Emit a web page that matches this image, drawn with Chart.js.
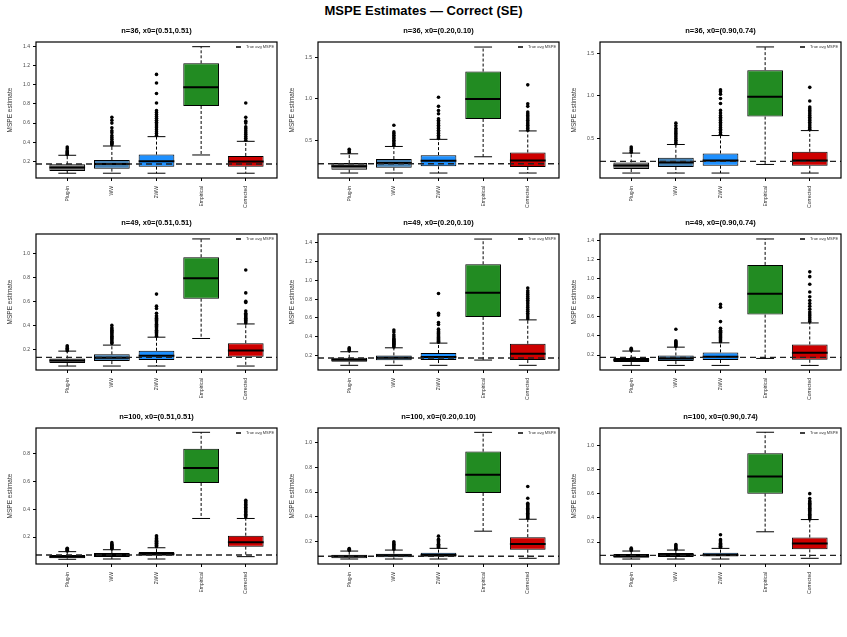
<!DOCTYPE html>
<html lang="en">
<head>
    <meta charset="UTF-8">
    <title>MSPE Estimates — Correct (SE)</title>
    <script src="https://cdn.jsdelivr.net/npm/chart.js"></script>
    <style>
        body {
            margin: 0;
            background-color: #ffffff;
            font-family: "Liberation Sans", Arial, sans-serif;
        }
        .page {
            position: relative;
            width: 847px;
            height: 637px;
        }
        .main-title {
            position: absolute;
            left: 0;
            top: 3px;
            width: 847px;
            text-align: center;
            font-weight: bold;
            font-size: 13px;
            color: #000;
        }
        .panel {
            position: absolute;
        }
    </style>
</head>
<body>
    <div class="page" id="page">
        <div class="main-title">MSPE Estimates — Correct (SE)</div>
    </div>

    <script>
        // Data
        const methods = ['Plug-in', 'WW', '2WW', 'Empirical', 'Corrected'];
        const boxColors = ['#7f7f7f', '#4682b4', '#1e90ff', '#228b22', '#cd0000'];
        const legendLabel = 'True avg MSPE';

        const panelTitles = [
            'n=36, x0=(0.51,0.51)', 'n=36, x0=(0.20,0.10)', 'n=36, x0=(0.90,0.74)',
            'n=49, x0=(0.51,0.51)', 'n=49, x0=(0.20,0.10)', 'n=49, x0=(0.90,0.74)',
            'n=100, x0=(0.51,0.51)', 'n=100, x0=(0.20,0.10)', 'n=100, x0=(0.90,0.74)'
        ];
        const trueAvgMSPE = [0.172, 0.215, 0.232, 0.134, 0.172, 0.176, 0.071, 0.083, 0.090];

        const yMin = [0.025, 0.042, 0.037, 0.029, 0.044, 0.044, 0.006, 0.021, 0.019];
        const yMax = [1.449, 1.689, 1.632, 1.160, 1.496, 1.466, 0.986, 1.115, 1.142];
        const yStep = [0.2, 0.5, 0.5, 0.2, 0.2, 0.2, 0.2, 0.2, 0.2];

        const q1 = [
            [0.099, 0.123, 0.144, 0.779, 0.144],
            [0.142, 0.167, 0.183, 0.757, 0.175],
            [0.142, 0.165, 0.181, 0.757, 0.181],
            [0.087, 0.103, 0.112, 0.622, 0.139],
            [0.133, 0.147, 0.150, 0.611, 0.150],
            [0.127, 0.137, 0.148, 0.623, 0.151],
            [0.047, 0.057, 0.066, 0.590, 0.131],
            [0.067, 0.075, 0.080, 0.592, 0.136],
            [0.071, 0.077, 0.080, 0.600, 0.140]
        ];
        const medians = [
            [0.134, 0.172, 0.200, 0.974, 0.197],
            [0.183, 0.223, 0.251, 0.998, 0.255],
            [0.185, 0.220, 0.243, 0.990, 0.243],
            [0.109, 0.131, 0.148, 0.793, 0.192],
            [0.154, 0.175, 0.182, 0.869, 0.218],
            [0.148, 0.165, 0.183, 0.842, 0.224],
            [0.059, 0.071, 0.078, 0.697, 0.162],
            [0.083, 0.091, 0.093, 0.739, 0.181],
            [0.085, 0.093, 0.093, 0.742, 0.189]
        ];
        const q3 = [
            [0.169, 0.214, 0.270, 1.226, 0.256],
            [0.223, 0.271, 0.319, 1.331, 0.351],
            [0.220, 0.274, 0.325, 1.302, 0.344],
            [0.125, 0.159, 0.189, 0.967, 0.252],
            [0.175, 0.200, 0.225, 1.173, 0.324],
            [0.169, 0.196, 0.228, 1.143, 0.311],
            [0.071, 0.085, 0.092, 0.836, 0.210],
            [0.096, 0.104, 0.112, 0.925, 0.237],
            [0.101, 0.110, 0.112, 0.934, 0.238]
        ];
        const whiskerLow = [
            [0.075, 0.075, 0.075, 0.266, 0.075],
            [0.102, 0.102, 0.102, 0.299, 0.102],
            [0.095, 0.095, 0.095, 0.196, 0.095],
            [0.062, 0.062, 0.062, 0.291, 0.062],
            [0.094, 0.094, 0.094, 0.150, 0.094],
            [0.092, 0.092, 0.092, 0.165, 0.092],
            [0.040, 0.042, 0.042, 0.334, 0.059],
            [0.061, 0.061, 0.061, 0.285, 0.067],
            [0.060, 0.060, 0.060, 0.285, 0.066]
        ];
        const whiskerHigh = [
            [0.263, 0.360, 0.458, 1.400, 0.409],
            [0.335, 0.424, 0.510, 1.628, 0.612],
            [0.329, 0.430, 0.535, 1.574, 0.593],
            [0.186, 0.236, 0.302, 1.119, 0.412],
            [0.239, 0.281, 0.331, 1.442, 0.579],
            [0.242, 0.283, 0.328, 1.414, 0.536],
            [0.095, 0.109, 0.123, 0.955, 0.334],
            [0.125, 0.133, 0.147, 1.080, 0.381],
            [0.126, 0.134, 0.148, 1.107, 0.386]
        ];
        const outliers = [
            [
                [0.27, 0.28, 0.29, 0.30, 0.31, 0.33, 0.35],
                [0.37, 0.38, 0.39, 0.40, 0.41, 0.43, 0.45, 0.47, 0.50, 0.52, 0.55, 0.60, 0.63, 0.66],
                [0.47, 0.49, 0.51, 0.53, 0.55, 0.57, 0.59, 0.61, 0.63, 0.65, 0.67, 0.69, 0.71, 0.73, 0.81, 0.91, 1.02, 1.11],
                [],
                [0.42, 0.44, 0.46, 0.48, 0.50, 0.52, 0.54, 0.56, 0.60, 0.62, 0.66, 0.81]
            ],
            [
                [0.35, 0.37, 0.39],
                [0.44, 0.46, 0.48, 0.50, 0.52, 0.54, 0.56, 0.58, 0.60, 0.68],
                [0.52, 0.54, 0.56, 0.58, 0.60, 0.62, 0.64, 0.66, 0.68, 0.70, 0.72, 0.74, 0.76, 0.82, 0.86, 0.91, 1.02],
                [],
                [0.62, 0.64, 0.66, 0.68, 0.70, 0.72, 0.74, 0.76, 0.78, 0.80, 0.82, 0.84, 0.91, 0.94, 1.17]
            ],
            [
                [0.34, 0.36, 0.38, 0.40],
                [0.44, 0.46, 0.48, 0.50, 0.52, 0.54, 0.56, 0.58, 0.60, 0.62, 0.65, 0.68],
                [0.55, 0.57, 0.59, 0.61, 0.63, 0.65, 0.67, 0.69, 0.71, 0.73, 0.75, 0.77, 0.80, 0.83, 0.91, 0.97, 1.02, 1.05, 1.07],
                [],
                [0.61, 0.63, 0.65, 0.67, 0.69, 0.71, 0.73, 0.75, 0.77, 0.79, 0.81, 0.83, 0.85, 0.87, 0.94, 1.10]
            ],
            [
                [0.19, 0.20, 0.21, 0.22, 0.23],
                [0.25, 0.26, 0.27, 0.28, 0.29, 0.30, 0.31, 0.32, 0.33, 0.34, 0.35, 0.36, 0.37, 0.38, 0.40],
                [0.31, 0.32, 0.33, 0.34, 0.35, 0.36, 0.37, 0.38, 0.39, 0.40, 0.41, 0.42, 0.43, 0.44, 0.45, 0.46, 0.47, 0.48, 0.50, 0.54, 0.56, 0.66],
                [],
                [0.42, 0.43, 0.44, 0.45, 0.46, 0.47, 0.48, 0.49, 0.50, 0.52, 0.59, 0.60, 0.67, 0.86]
            ],
            [
                [0.25, 0.26, 0.27, 0.28],
                [0.29, 0.30, 0.31, 0.32, 0.33, 0.34, 0.35, 0.36, 0.37, 0.38, 0.40, 0.42, 0.45, 0.47],
                [0.34, 0.35, 0.36, 0.37, 0.38, 0.39, 0.40, 0.41, 0.42, 0.43, 0.44, 0.45, 0.46, 0.48, 0.53, 0.55, 0.63, 0.65, 0.86],
                [],
                [0.59, 0.61, 0.63, 0.65, 0.67, 0.69, 0.71, 0.73, 0.75, 0.77, 0.79, 0.81, 0.83, 0.85, 0.87, 0.89, 0.92]
            ],
            [
                [0.25, 0.26, 0.27],
                [0.29, 0.30, 0.31, 0.32, 0.33, 0.34, 0.35, 0.47],
                [0.34, 0.35, 0.36, 0.37, 0.38, 0.39, 0.40, 0.41, 0.42, 0.43, 0.44, 0.45, 0.46, 0.48, 0.55, 0.70, 0.73],
                [],
                [0.55, 0.57, 0.59, 0.61, 0.63, 0.65, 0.68, 0.71, 0.74, 0.77, 0.81, 0.86, 0.94, 1.02, 1.07]
            ],
            [
                [0.100, 0.105, 0.110, 0.115, 0.120],
                [0.115, 0.120, 0.125, 0.130, 0.135, 0.140, 0.145, 0.150, 0.160],
                [0.130, 0.135, 0.140, 0.145, 0.150, 0.155, 0.160, 0.165, 0.170, 0.175, 0.180, 0.190, 0.200, 0.210],
                [],
                [0.345, 0.355, 0.365, 0.375, 0.385, 0.395, 0.405, 0.415, 0.425, 0.435, 0.445, 0.455, 0.465]
            ],
            [
                [0.130, 0.135, 0.140, 0.145],
                [0.140, 0.150, 0.160, 0.170, 0.180, 0.190, 0.200],
                [0.155, 0.160, 0.165, 0.170, 0.175, 0.180, 0.190, 0.200, 0.210, 0.220, 0.245],
                [],
                [0.39, 0.40, 0.41, 0.42, 0.43, 0.44, 0.45, 0.46, 0.47, 0.48, 0.49, 0.50, 0.51, 0.55, 0.645]
            ],
            [
                [0.130, 0.140, 0.150],
                [0.140, 0.150, 0.160, 0.170, 0.180],
                [0.155, 0.160, 0.165, 0.170, 0.175, 0.180, 0.190, 0.200, 0.210, 0.220, 0.260],
                [],
                [0.39, 0.40, 0.41, 0.42, 0.43, 0.44, 0.45, 0.46, 0.47, 0.48, 0.49, 0.50, 0.51, 0.52, 0.53, 0.54, 0.56, 0.60]
            ]
        ];

        // Layout
        const panelLefts = [0, 282, 564];
        const panelTops = [22, 214, 408];
        const panelWidth = 282;
        const panelHeight = 192;
        const xMin = 0.3;
        const xMax = 5.7;
        const boxHalf = 0.4;
        const capHalf = 0.2;
        const fontFamily = '"Liberation Sans", Arial, sans-serif';

        Chart.defaults.font.family = fontFamily;

        // frame around the plot region + small legend in the top right corner
        const framePlugin = {
            id: 'frame',
            afterDraw(chart) {
                const { ctx, chartArea: a } = chart;
                ctx.save();
                ctx.strokeStyle = '#000';
                ctx.lineWidth = 1.2;
                ctx.strokeRect(a.left, a.top, a.right - a.left, a.bottom - a.top);
                ctx.lineWidth = 1.5;
                ctx.beginPath();
                ctx.moveTo(a.right - 41, a.top + 5);
                ctx.lineTo(a.right - 36, a.top + 5);
                ctx.stroke();
                ctx.font = '4px ' + fontFamily;
                ctx.fillStyle = '#333';
                ctx.textBaseline = 'middle';
                ctx.fillText(legendLabel, a.right - 31, a.top + 5);
                ctx.restore();
            }
        };

        function buildDatasets(p) {
            const boxData = [];
            const medianPts = [];
            const whiskerPts = [];
            const capPts = [];
            const outlierPts = [];

            methods.forEach((m, i) => {
                const x = i + 1;
                boxData.push({ x: x, y: [q1[p][i], q3[p][i]] });
                medianPts.push({ x: x - boxHalf, y: medians[p][i] }, { x: x + boxHalf, y: medians[p][i] }, { x: x, y: null });
                whiskerPts.push(
                    { x: x, y: q3[p][i] }, { x: x, y: whiskerHigh[p][i] }, { x: x, y: null },
                    { x: x, y: q1[p][i] }, { x: x, y: whiskerLow[p][i] }, { x: x, y: null }
                );
                capPts.push(
                    { x: x - capHalf, y: whiskerHigh[p][i] }, { x: x + capHalf, y: whiskerHigh[p][i] }, { x: x, y: null },
                    { x: x - capHalf, y: whiskerLow[p][i] }, { x: x + capHalf, y: whiskerLow[p][i] }, { x: x, y: null }
                );
                outliers[p][i].forEach(v => outlierPts.push({ x: x, y: v }));
            });

            return [
                {
                    type: 'line',
                    label: 'whiskers',
                    data: whiskerPts,
                    borderColor: '#000',
                    borderWidth: 1,
                    borderDash: [3, 2],
                    pointRadius: 0,
                    spanGaps: false,
                    order: 5
                },
                {
                    type: 'line',
                    label: 'caps',
                    data: capPts,
                    borderColor: '#000',
                    borderWidth: 1,
                    pointRadius: 0,
                    spanGaps: false,
                    order: 4
                },
                {
                    type: 'bar',
                    label: 'box',
                    data: boxData,
                    backgroundColor: boxColors,
                    borderColor: '#000',
                    borderWidth: 1,
                    borderSkipped: false,
                    barPercentage: 0.8,
                    categoryPercentage: 1.0,
                    order: 3
                },
                {
                    type: 'line',
                    label: 'median',
                    data: medianPts,
                    borderColor: '#000',
                    borderWidth: 2,
                    pointRadius: 0,
                    spanGaps: false,
                    order: 2
                },
                {
                    type: 'line',
                    label: legendLabel,
                    data: [{ x: xMin, y: trueAvgMSPE[p] }, { x: xMax, y: trueAvgMSPE[p] }],
                    borderColor: '#222',
                    borderWidth: 1.4,
                    borderDash: [6, 4],
                    pointRadius: 0,
                    order: 1
                },
                {
                    type: 'line',
                    label: 'outliers',
                    data: outlierPts,
                    showLine: false,
                    pointRadius: 1.8,
                    pointBackgroundColor: '#000',
                    pointBorderWidth: 0,
                    order: 0
                }
            ];
        }

        function makeChart(p) {
            const canvas = document.createElement('canvas');
            canvas.className = 'panel';
            canvas.width = panelWidth;
            canvas.height = panelHeight;
            canvas.style.left = panelLefts[p % 3] + 'px';
            canvas.style.top = panelTops[Math.floor(p / 3)] + 'px';
            document.getElementById('page').appendChild(canvas);

            return new Chart(canvas.getContext('2d'), {
                type: 'bar',
                data: { datasets: buildDatasets(p) },
                options: {
                    responsive: false,
                    animation: false,
                    events: [],
                    layout: { padding: { right: 5 } },
                    plugins: {
                        legend: { display: false },
                        tooltip: { enabled: false },
                        title: {
                            display: true,
                            fullSize: false,
                            text: panelTitles[p],
                            color: '#000',
                            font: { size: 7.5, weight: 'bold' },
                            padding: { top: 4, bottom: 7 }
                        }
                    },
                    scales: {
                        x: {
                            type: 'linear',
                            min: xMin,
                            max: xMax,
                            offset: false,
                            afterBuildTicks: scale => {
                                scale.ticks = methods.map((m, i) => ({ value: i + 1 }));
                            },
                            afterFit: scale => { scale.height = 36; },
                            grid: { display: true, offset: false, drawOnChartArea: false, drawTicks: true, tickLength: 3, color: '#000' },
                            border: { display: false },
                            ticks: {
                                autoSkip: false,
                                minRotation: 90,
                                maxRotation: 90,
                                padding: 5,
                                color: '#333',
                                font: { size: 5 },
                                callback: v => methods[Math.round(v) - 1]
                            }
                        },
                        y: {
                            type: 'linear',
                            min: yMin[p],
                            max: yMax[p],
                            afterFit: scale => { scale.width = 36; },
                            grid: { display: true, drawOnChartArea: false, drawTicks: true, tickLength: 3, color: '#000' },
                            border: { display: false },
                            ticks: {
                                stepSize: yStep[p],
                                includeBounds: false,
                                padding: 3,
                                color: '#444',
                                font: { size: 5 },
                                callback: v => v.toFixed(1)
                            },
                            title: {
                                display: true,
                                text: 'MSPE estimate',
                                color: '#333',
                                font: { size: 6.5 },
                                padding: { top: 6, bottom: 0 }
                            }
                        }
                    }
                },
                plugins: [framePlugin]
            });
        }

        panelTitles.forEach((t, p) => makeChart(p));
    </script>
</body>
</html>
